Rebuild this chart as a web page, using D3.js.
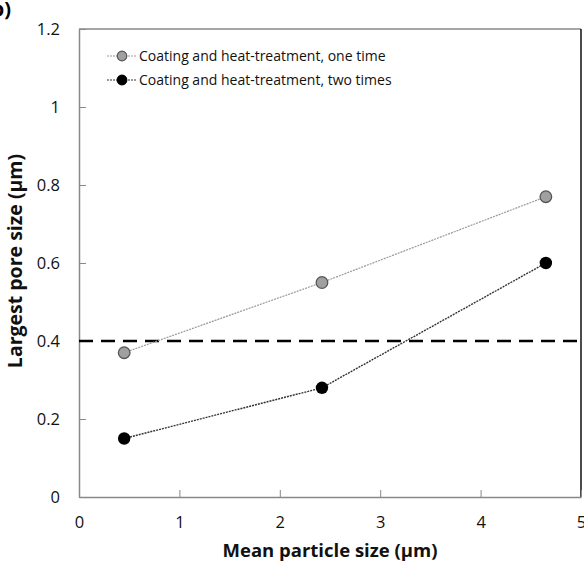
<!DOCTYPE html>
<html><head><meta charset="utf-8">
<script src="https://cdn.jsdelivr.net/npm/d3@7"></script>
<style>body{margin:0;background:#fff}svg{display:block}</style>
</head><body>
<script>
const xValues = [0.45, 2.42, 4.65];
const seriesOne = [0.37, 0.55, 0.77];
const seriesTwo = [0.15, 0.28, 0.60];
const seriesNames = ["Coating and heat-treatment, one time", "Coating and heat-treatment, two times"];
const xTicks = [0, 1, 2, 3, 4, 5];
const yTicks = [0, 0.2, 0.4, 0.6, 0.8, 1, 1.2];
const threshold = 0.4;

const W = 584, H = 562;
const L = 79, R = 581, T = 29, B = 497;
const font = "'Open Sans', Lato, sans-serif";

const svg = d3.select("body").append("svg").attr("width", W).attr("height", H);
const x = d3.scaleLinear().domain([0, 5]).range([L, R]);
const y = d3.scaleLinear().domain([0, 1.2]).range([B, T]);

// frame
svg.append("line").attr("x1", L).attr("x2", R).attr("y1", T).attr("y2", T).attr("stroke", "#888").attr("stroke-width", 1.5);
svg.append("line").attr("x1", R).attr("x2", R).attr("y1", T).attr("y2", B).attr("stroke", "#111").attr("stroke-width", 1.5);

// axes
const xAxis = d3.axisBottom(x).tickValues(xTicks).tickSizeInner(-7).tickSizeOuter(0).tickPadding(19).tickFormat(d3.format("d"));
const gx = svg.append("g").attr("transform", `translate(0,${B})`).call(xAxis);
gx.select(".domain").attr("stroke", "#888").attr("stroke-width", 1.5);
gx.selectAll(".tick line").attr("stroke", "#888");
gx.selectAll("text").attr("font-family", font).attr("font-size", 16.5).attr("fill", "#111");

const yAxis = d3.axisLeft(y).tickValues(yTicks).tickSizeInner(-7).tickSizeOuter(0).tickPadding(19).tickFormat(d => d === 0 || d === 1 ? d3.format("d")(d) : d3.format(".1f")(d));
const gy = svg.append("g").attr("transform", `translate(${L},0)`).call(yAxis);
gy.select(".domain").attr("stroke", "#888").attr("stroke-width", 1.5);
gy.selectAll(".tick line").attr("stroke", "#888");
gy.selectAll("text").attr("font-family", font).attr("font-size", 16.5).attr("fill", "#111");

// threshold
svg.append("line").attr("x1", L).attr("x2", R).attr("y1", y(threshold)).attr("y2", y(threshold))
  .attr("stroke", "#000").attr("stroke-width", 2.6).attr("stroke-dasharray", "14,8");

const line = d3.line().x(d => x(d[0])).y(d => y(d[1]));
const d1 = xValues.map((v, i) => [v, seriesOne[i]]);
const d2 = xValues.map((v, i) => [v, seriesTwo[i]]);

svg.append("path").datum(d1).attr("d", line).attr("fill", "none").attr("stroke", "#999").attr("stroke-width", 1.2).attr("stroke-dasharray", "2,1");
svg.append("path").datum(d2).attr("d", line).attr("fill", "none").attr("stroke", "#333").attr("stroke-width", 1.4).attr("stroke-dasharray", "2,1");

svg.selectAll(".p1").data(d1).enter().append("circle").attr("cx", d => x(d[0])).attr("cy", d => y(d[1])).attr("r", 5.8)
  .attr("fill", "#a0a0a0").attr("stroke", "#555").attr("stroke-width", 1.3);
svg.selectAll(".p2").data(d2).enter().append("circle").attr("cx", d => x(d[0])).attr("cy", d => y(d[1])).attr("r", 6.2)
  .attr("fill", "#000");

// legend
const leg = [
  {name: seriesNames[0], y: 56, fill: "#a0a0a0", stroke: "#555", lc: "#999"},
  {name: seriesNames[1], y: 80, fill: "#000", stroke: "#000", lc: "#333"}
];
leg.forEach(l => {
  svg.append("line").attr("x1", 107).attr("x2", 137).attr("y1", l.y).attr("y2", l.y).attr("stroke", l.lc).attr("stroke-width", 1.2).attr("stroke-dasharray", "2,1");
  svg.append("circle").attr("cx", 122).attr("cy", l.y).attr("r", 4.8).attr("fill", l.fill).attr("stroke", l.stroke).attr("stroke-width", 1.2);
  svg.append("text").attr("x", 139).attr("y", l.y + 4.8).attr("font-family", font).attr("font-size", 14).attr("fill", "#111").text(l.name);
});

// axis titles
svg.append("text").attr("x", (L + R) / 2).attr("y", 557).attr("text-anchor", "middle").attr("font-family", font).attr("font-weight", "bold").attr("font-size", 18.5).attr("fill", "#111")
  .text("Mean particle size (μm)");
svg.append("text").attr("transform", `translate(22,${(T + B) / 2 - 2}) rotate(-90)`).attr("text-anchor", "middle").attr("font-family", font).attr("font-weight", "bold").attr("font-size", 19.5).attr("fill", "#111")
  .text("Largest pore size (μm)");

// panel label
svg.append("text").attr("x", 11).attr("y", 16).attr("text-anchor", "end").attr("font-family", font).attr("font-weight", "bold").attr("font-size", 20).attr("fill", "#000").text("b)");
</script>
</body></html>
